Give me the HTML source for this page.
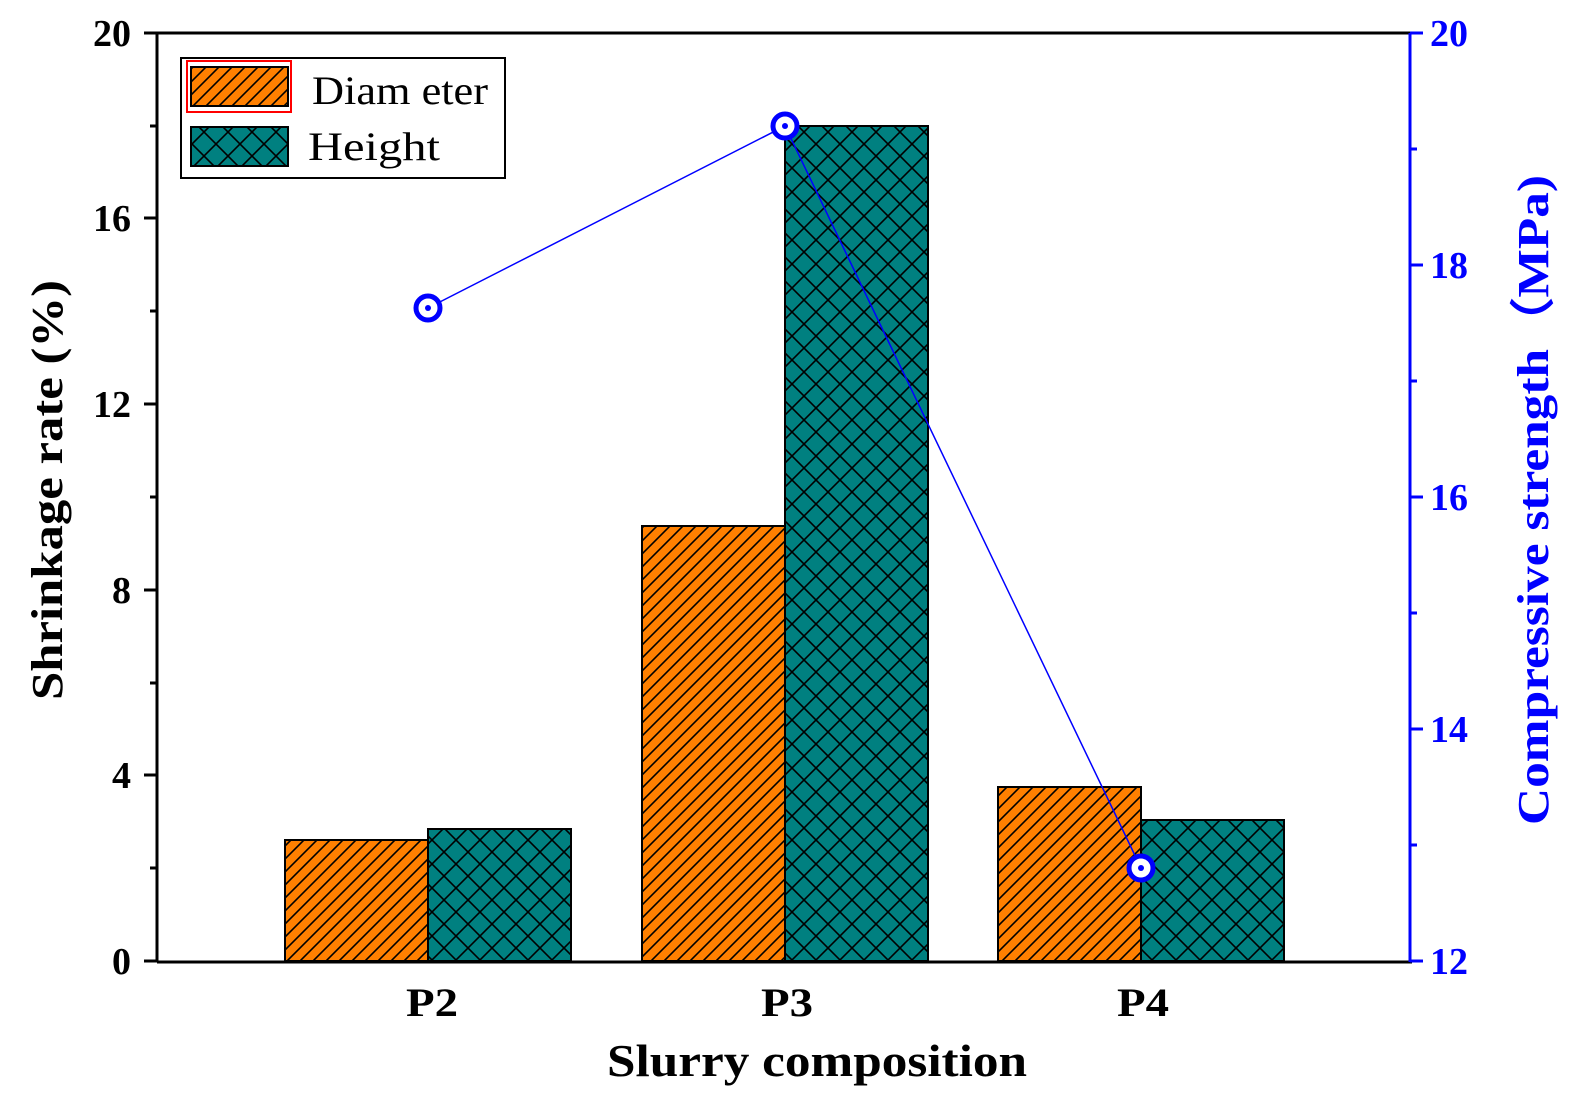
<!DOCTYPE html>
<html><head><meta charset="utf-8"><style>
html,body{margin:0;padding:0;background:#fff}
svg{display:block}
text{font-family:"Liberation Serif",serif}
</style></head><body>
<svg width="1575" height="1104" viewBox="0 0 1575 1104" xmlns="http://www.w3.org/2000/svg">
<defs>
<pattern id="diag" patternUnits="userSpaceOnUse" width="13" height="13">
<rect width="13" height="13" fill="#ff8000"/>
<path d="M-3,3 L3,-3 M0,13 L13,0 M10,16 L16,10" stroke="#000" stroke-width="1.6"/>
</pattern>
<pattern id="cross" patternUnits="userSpaceOnUse" width="24" height="24">
<rect width="24" height="24" fill="#008080"/>
<path d="M0,0 L24,24 M24,0 L0,24" stroke="#000" stroke-width="1.6"/>
</pattern>
</defs>
<g stroke="#000" stroke-width="2">
<rect x="285" y="840" width="143" height="121" fill="url(#diag)"/>
<rect x="428" y="829" width="143" height="132" fill="url(#cross)"/>
<rect x="642" y="526" width="143" height="435" fill="url(#diag)"/>
<rect x="785" y="126" width="143" height="835" fill="url(#cross)"/>
<rect x="998" y="787" width="143" height="174" fill="url(#diag)"/>
<rect x="1141" y="820" width="143" height="141" fill="url(#cross)"/>
</g>
<line x1="150" y1="33" x2="1412" y2="33" stroke="#000" stroke-width="3"/>
<line x1="157" y1="33" x2="157" y2="962" stroke="#000" stroke-width="3"/>
<line x1="157" y1="962" x2="1412" y2="962" stroke="#000" stroke-width="3"/>
<line x1="1410" y1="33" x2="1410" y2="962" stroke="#00f" stroke-width="3"/>
<g stroke="#000" stroke-width="3">
<line x1="144" y1="961" x2="157" y2="961"/><line x1="144" y1="775" x2="157" y2="775"/>
<line x1="144" y1="590" x2="157" y2="590"/><line x1="144" y1="404" x2="157" y2="404"/>
<line x1="144" y1="218" x2="157" y2="218"/><line x1="144" y1="33" x2="157" y2="33"/>
<line x1="150" y1="868" x2="157" y2="868"/><line x1="150" y1="683" x2="157" y2="683"/>
<line x1="150" y1="497" x2="157" y2="497"/><line x1="150" y1="311" x2="157" y2="311"/>
<line x1="150" y1="126" x2="157" y2="126"/>
</g>
<g stroke="#00f" stroke-width="3">
<line x1="1410" y1="961" x2="1423" y2="961"/><line x1="1410" y1="729" x2="1423" y2="729"/>
<line x1="1410" y1="497" x2="1423" y2="497"/><line x1="1410" y1="265" x2="1423" y2="265"/>
<line x1="1410" y1="33" x2="1423" y2="33"/>
<line x1="1410" y1="845" x2="1417" y2="845"/><line x1="1410" y1="613" x2="1417" y2="613"/>
<line x1="1410" y1="381" x2="1417" y2="381"/><line x1="1410" y1="149" x2="1417" y2="149"/>
</g>
<g font-size="38" font-weight="bold" text-anchor="end">
<text x="131" y="974">0</text><text x="131" y="788">4</text><text x="131" y="603">8</text>
<text x="131" y="417">12</text><text x="131" y="231">16</text><text x="131" y="46">20</text>
</g>
<g font-size="38" font-weight="bold" fill="#00f">
<text x="1430" y="974">12</text><text x="1430" y="742">14</text><text x="1430" y="510">16</text>
<text x="1430" y="278">18</text><text x="1430" y="46">20</text>
</g>
<g font-size="40" font-weight="bold" text-anchor="middle">
<text x="432" y="1016" textLength="52" lengthAdjust="spacingAndGlyphs">P2</text>
<text x="787" y="1016" textLength="52" lengthAdjust="spacingAndGlyphs">P3</text>
<text x="1143" y="1016" textLength="52" lengthAdjust="spacingAndGlyphs">P4</text>
<text x="817" y="1076" font-size="46" textLength="420" lengthAdjust="spacingAndGlyphs">Slurry composition</text>
</g>
<text transform="translate(62,490) rotate(-90)" text-anchor="middle" font-size="44" font-weight="bold" textLength="420" lengthAdjust="spacingAndGlyphs">Shrinkage rate (%)</text>
<text transform="translate(1548,500) rotate(-90)" text-anchor="middle" font-size="44" font-weight="bold" fill="#00f" textLength="650" lengthAdjust="spacingAndGlyphs">Compressive strength（MPa)</text>
<polyline points="428,308 785,126 1141,868" fill="none" stroke="#00f" stroke-width="1.5"/>
<g fill="#fff" stroke="#00f" stroke-width="5">
<circle cx="428" cy="308" r="12"/><circle cx="785" cy="126" r="12"/><circle cx="1141" cy="868" r="12"/>
</g>
<g fill="#00f"><circle cx="428" cy="308" r="3"/><circle cx="785" cy="126" r="3"/><circle cx="1141" cy="868" r="3"/></g>
<rect x="181" y="58" width="324" height="120" fill="#fff" stroke="#000" stroke-width="2"/>
<rect x="187" y="61" width="104" height="51" fill="none" stroke="#f00" stroke-width="2"/>
<rect x="191" y="67" width="97" height="39" fill="url(#diag)" stroke="#000" stroke-width="2"/>
<rect x="191" y="127" width="97" height="39" fill="url(#cross)" stroke="#000" stroke-width="2"/>
<text x="312" y="104" font-size="40" textLength="176" lengthAdjust="spacingAndGlyphs">Diam eter</text>
<text x="308" y="160" font-size="40" textLength="132" lengthAdjust="spacingAndGlyphs">Height</text>
</svg>
</body></html>
